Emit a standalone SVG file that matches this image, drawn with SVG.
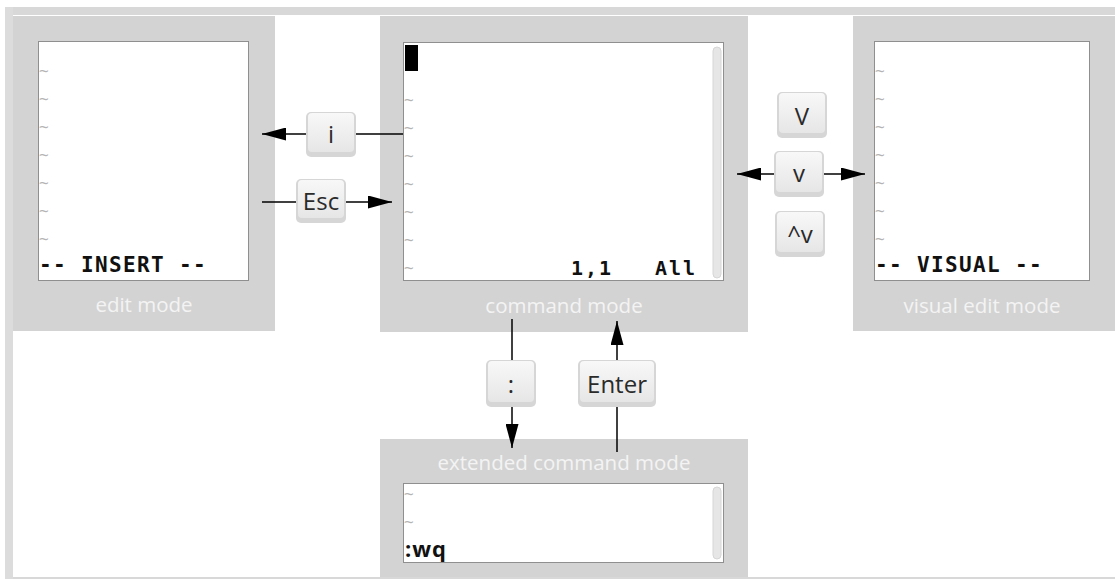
<svg xmlns="http://www.w3.org/2000/svg" width="1115" height="580" viewBox="0 0 1115 580">
<defs>
<style>
.panel{fill:#d3d3d3}
.screen{fill:#ffffff;stroke:#8f8f8f;stroke-width:1}
.label{font-family:"Open Sans","Liberation Sans",sans-serif;font-size:20.5px;fill:#f3f3f3;text-anchor:middle}
.tilde{font-family:"DejaVu Sans Mono",monospace;font-size:16px;fill:#b4b4b4}
.status{font-family:"DejaVu Sans Mono",monospace;font-size:21px;font-weight:bold;fill:#111;letter-spacing:1.35px}
.pos{font-family:"DejaVu Sans Mono",monospace;font-size:20px;font-weight:bold;fill:#111;letter-spacing:2px}
.keyout{fill:#d6d6d6}
.keyin{fill:url(#keyGrad)}
.keytxt{font-family:"Open Sans","Liberation Sans",sans-serif;font-size:24px;fill:#2a2a2a;text-anchor:middle}
.scroll{fill:#e6e6e6;stroke:#d6d6d6;stroke-width:1}
.conn{stroke:#000;stroke-width:1.5;fill:none}
</style>
<linearGradient id="keyGrad" x1="0" y1="0" x2="0" y2="1">
<stop offset="0" stop-color="#f8f8f8"/>
<stop offset="1" stop-color="#e6e6e6"/>
</linearGradient>
<marker id="arrow" viewBox="0 0 24 13" markerWidth="24" markerHeight="13" refX="24" refY="6.5" orient="auto" markerUnits="userSpaceOnUse">
<path d="M0,0 L24,6.5 L0,13 z" fill="#000"/>
</marker>
</defs>

<g id="frame">
<rect x="5" y="7" width="1110" height="8" fill="#d8d8d8"/>
<rect x="5" y="7" width="8" height="572" fill="#dcdcdc"/>
<rect x="13" y="577" width="1102" height="2" fill="#d8d8d8"/>
</g>

<g id="edit-mode">
<rect class="panel" x="13" y="16" width="262" height="315"/>
<rect class="screen" x="38.5" y="41.5" width="210" height="239"/>
<text class="tilde" x="39" y="76">~</text>
<text class="tilde" x="39" y="104">~</text>
<text class="tilde" x="39" y="132">~</text>
<text class="tilde" x="39" y="160">~</text>
<text class="tilde" x="39" y="188">~</text>
<text class="tilde" x="39" y="216">~</text>
<text class="tilde" x="39" y="244">~</text>
<text class="status" x="39" y="272">-- INSERT --</text>
<text class="label" x="144" y="312">edit mode</text>
</g>

<g id="command-mode">
<rect class="panel" x="380" y="16" width="368" height="316"/>
<rect class="screen" x="403.5" y="42.5" width="320" height="238"/>
<rect class="scroll" x="713" y="47" width="8" height="231" rx="4"/>
<rect x="405" y="45" width="13" height="26" fill="#000"/>
<text class="tilde" x="404" y="105">~</text>
<text class="tilde" x="404" y="133">~</text>
<text class="tilde" x="404" y="161">~</text>
<text class="tilde" x="404" y="189">~</text>
<text class="tilde" x="404" y="217">~</text>
<text class="tilde" x="404" y="245">~</text>
<text class="tilde" x="404" y="273">~</text>
<text class="pos" x="571" y="275">1,1</text>
<text class="pos" x="655" y="275">All</text>
<text class="label" x="564" y="313">command mode</text>
</g>

<g id="visual-mode">
<rect class="panel" x="853" y="16" width="262" height="315"/>
<rect class="screen" x="874.5" y="41.5" width="215" height="239"/>
<text class="tilde" x="875" y="76">~</text>
<text class="tilde" x="875" y="104">~</text>
<text class="tilde" x="875" y="132">~</text>
<text class="tilde" x="875" y="160">~</text>
<text class="tilde" x="875" y="188">~</text>
<text class="tilde" x="875" y="216">~</text>
<text class="tilde" x="875" y="244">~</text>
<text class="status" x="875" y="272">-- VISUAL --</text>
<text class="label" x="982" y="313">visual edit mode</text>
</g>

<g id="extended-mode">
<rect class="panel" x="380" y="439" width="368" height="138"/>
<text class="label" x="564" y="470">extended command mode</text>
<rect class="screen" x="403.5" y="483.5" width="320" height="79"/>
<rect class="scroll" x="713" y="487" width="8" height="72" rx="4"/>
<text class="tilde" x="404" y="499">~</text>
<text class="tilde" x="404" y="527">~</text>
<text x="405" y="557" font-family="'Open Sans','Liberation Sans',sans-serif" font-size="22" font-weight="bold" fill="#111" letter-spacing="1">:wq</text>
</g>

<g id="connectors">
<line class="conn" x1="403" y1="134" x2="356" y2="134"/>
<line class="conn" x1="306" y1="134" x2="262" y2="134" marker-end="url(#arrow)"/>
<line class="conn" x1="262" y1="202" x2="296" y2="202"/>
<line class="conn" x1="346" y1="202" x2="392" y2="202" marker-end="url(#arrow)"/>
<line class="conn" x1="774" y1="174" x2="737" y2="174" marker-end="url(#arrow)"/>
<line class="conn" x1="824" y1="174" x2="865" y2="174" marker-end="url(#arrow)"/>
<line class="conn" x1="512" y1="319" x2="512" y2="360"/>
<line class="conn" x1="512" y1="407" x2="512" y2="448" marker-end="url(#arrow)"/>
<line class="conn" x1="617" y1="452" x2="617" y2="407"/>
<line class="conn" x1="617" y1="360" x2="617" y2="321" marker-end="url(#arrow)"/>
</g>

<g id="key-i">
<rect class="keyout" x="306" y="112" width="50" height="45" rx="5"/>
<rect class="keyin" x="308" y="113" width="46" height="39" rx="4"/>
<text class="keytxt" x="331" y="143">i</text>
</g>
<g id="key-esc">
<rect class="keyout" x="296" y="179" width="50" height="44" rx="5"/>
<rect class="keyin" x="298" y="180" width="46" height="38" rx="4"/>
<text class="keytxt" x="321" y="210">Esc</text>
</g>
<g id="key-V">
<rect class="keyout" x="777" y="92" width="50" height="46" rx="5"/>
<rect class="keyin" x="779" y="93" width="46" height="40" rx="4"/>
<text class="keytxt" x="802" y="125">V</text>
</g>
<g id="key-v">
<rect class="keyout" x="774" y="151" width="50" height="46" rx="5"/>
<rect class="keyin" x="776" y="152" width="46" height="40" rx="4"/>
<text class="keytxt" x="799" y="182">v</text>
</g>
<g id="key-ctrl-v">
<rect class="keyout" x="775" y="211" width="50" height="46" rx="5"/>
<rect class="keyin" x="777" y="212" width="46" height="40" rx="4"/>
<text class="keytxt" x="800" y="243">^v</text>
</g>
<g id="key-colon">
<rect class="keyout" x="486" y="360" width="50" height="47" rx="5"/>
<rect class="keyin" x="488" y="361" width="46" height="41" rx="4"/>
<text class="keytxt" x="511" y="393">:</text>
</g>
<g id="key-enter">
<rect class="keyout" x="578" y="360" width="78" height="47" rx="5"/>
<rect class="keyin" x="580" y="361" width="74" height="41" rx="4"/>
<text class="keytxt" x="617" y="393">Enter</text>
</g>
</svg>
